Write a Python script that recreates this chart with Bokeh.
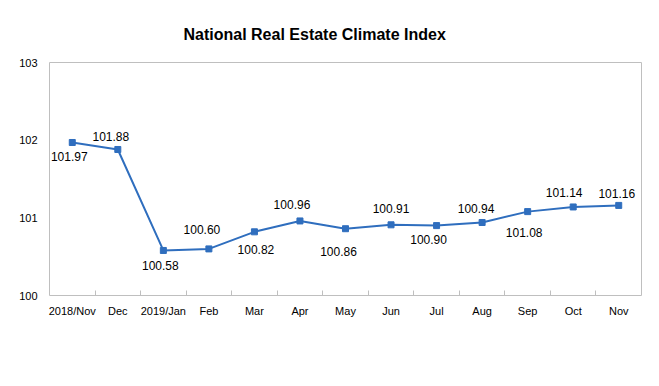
from bokeh.plotting import figure
from bokeh.models import FixedTicker, Title, ColumnDataSource
from bokeh.core.properties import value
from bokeh.embed import file_html
from bokeh.resources import INLINE

# ---- data ----
months = ["2018/Nov", "Dec", "2019/Jan", "Feb", "Mar", "Apr", "May",
          "Jun", "Jul", "Aug", "Sep", "Oct", "Nov"]
index_values = [101.97, 101.88, 100.58, 100.60, 100.82, 100.96, 100.86,
                100.91, 100.90, 100.94, 101.08, 101.14, 101.16]
value_labels = ["101.97", "101.88", "100.58", "100.60", "100.82", "100.96", "100.86",
                "100.91", "100.90", "100.94", "101.08", "101.14", "101.16"]
y_ticks = [100, 101, 102, 103]

# ---- label layout (pixel offsets of each value label from its point) ----
label_dx = [-3, -7, -3, -7, 1.5, -8, -7, 0, -8, -6, -3.5, -9, -2]
label_dy = [14, -13, 15, -19, 18, -16, 22.5, -16, 14, -14, 21, -14.5, -12]

n = len(months)
xs = [i + 0.5 for i in range(n)]

src = ColumnDataSource(dict(x=xs, y=index_values, lab=value_labels,
                            dx=label_dx, dy=label_dy))

FONT = "Liberation Sans"
BLUE = "#2F6EBE"
GRAY = "#BFBFBF"

p = figure(width=659, height=386, output_backend="svg", toolbar_location=None,
           x_range=(0, n), y_range=(100, 103),
           min_border_left=49, min_border_right=18,
           min_border_top=62, min_border_bottom=91)
p.title = None
title = Title(text="National Real Estate Climate Index", align="left", offset=134,
              text_font=FONT, text_font_size="16px", text_font_style="bold",
              text_color="#000000", standoff=39)
p.add_layout(title, "above")

p.outline_line_color = GRAY
p.outline_line_width = 1
p.background_fill_color = "white"
p.border_fill_color = "white"
p.grid.visible = False

# x axis: labels at centres, tick marks at category boundaries
p.xaxis.ticker = FixedTicker(ticks=xs, minor_ticks=list(range(1, n)))
p.xaxis.major_label_overrides = {x: m for x, m in zip(xs, months)}
p.xaxis.major_tick_line_color = None
p.xaxis.major_tick_in = 0
p.xaxis.major_tick_out = 0
p.xaxis.minor_tick_line_color = GRAY
p.xaxis.minor_tick_in = 5
p.xaxis.minor_tick_out = 0
p.xaxis.axis_line_color = None
p.xaxis.major_label_text_font = FONT
p.xaxis.major_label_text_font_size = "11px"
p.xaxis.major_label_text_color = "#000000"
p.xaxis.major_label_standoff = 9

p.yaxis.ticker = FixedTicker(ticks=y_ticks, minor_ticks=[])
p.yaxis.major_tick_line_color = None
p.yaxis.major_tick_in = 0
p.yaxis.major_tick_out = 0
p.yaxis.minor_tick_line_color = None
p.yaxis.axis_line_color = None
p.yaxis.major_label_text_font = FONT
p.yaxis.major_label_text_font_size = "11px"
p.yaxis.major_label_text_color = "#000000"
p.yaxis.major_label_standoff = 12

p.line("x", "y", source=src, line_color=BLUE, line_width=2)
p.scatter("x", "y", source=src, marker="square", size=6,
          fill_color=BLUE, line_color=BLUE)
p.text("x", "y", text="lab", source=src, x_offset="dx", y_offset="dy",
       text_align="center", text_baseline="middle",
       text_font=value(FONT), text_font_size="12px", text_color="#000000")

open("out.html", "w").write(file_html(p, INLINE))
